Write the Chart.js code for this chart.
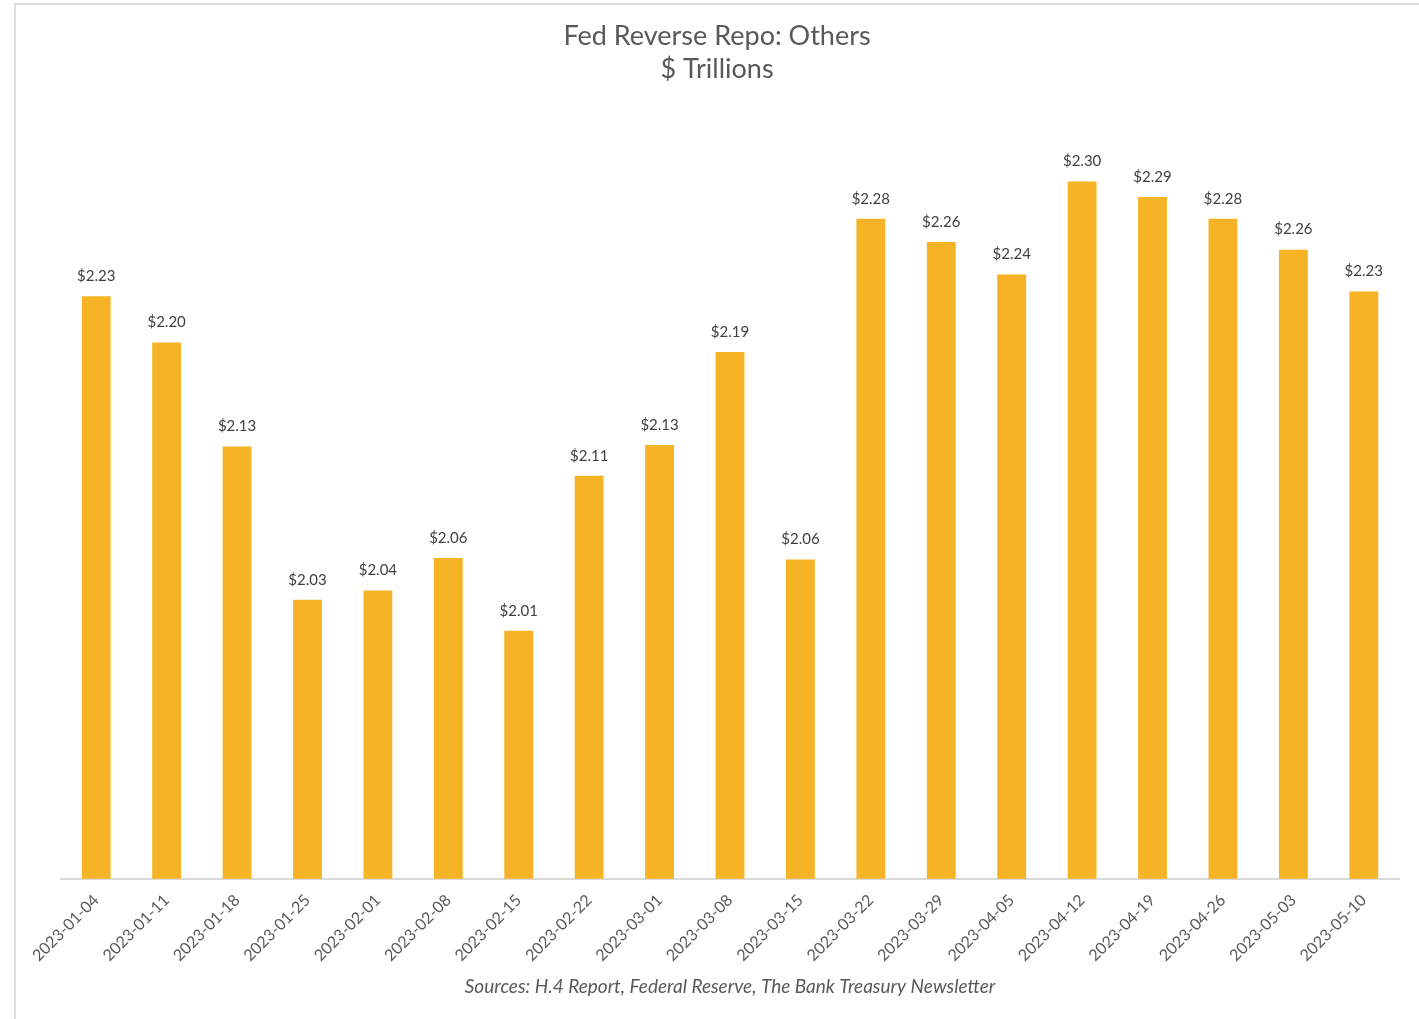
<!DOCTYPE html>
<html>
<head>
<meta charset="utf-8">
<script src="https://cdn.jsdelivr.net/npm/chart.js@4.4.0/dist/chart.umd.min.js"></script>
<style>
  html, body { margin: 0; padding: 0; background: #fff; }
  #wrap { position: relative; width: 1419px; height: 1019px; overflow: hidden; }
  #frame { position: absolute; left: 14px; top: 3px; right: -10px; bottom: -10px;
           border-left: 2px solid #dedede; border-top: 2px solid #dedede; }
  canvas { position: absolute; left: 0; top: 0; }
</style>
</head>
<body>
<div id="wrap">
  <div id="frame"></div>
  <canvas id="repoChart" width="1419" height="1019"></canvas>
</div>
<script>
// weekly dates (Wednesdays)
const weeks = [
  '2023-01-04', '2023-01-11', '2023-01-18', '2023-01-25', '2023-02-01',
  '2023-02-08', '2023-02-15', '2023-02-22', '2023-03-01', '2023-03-08',
  '2023-03-15', '2023-03-22', '2023-03-29', '2023-04-05', '2023-04-12',
  '2023-04-19', '2023-04-26', '2023-05-03', '2023-05-10'
];

// $ trillions
const othersRepo = [
  2.226, 2.196, 2.129, 2.030, 2.036,
  2.057, 2.010, 2.110, 2.130, 2.190,
  2.056, 2.276, 2.261, 2.240, 2.300,
  2.290, 2.276, 2.256, 2.229
];

const titleLines = ['Fed Reverse Repo: Others', '$ Trillions'];
const sourceNote = 'Sources: H.4 Report, Federal Reserve, The Bank Treasury Newsletter';

const FONT = 'Lato, "Open Sans", sans-serif';

// title is drawn by hand: it sits a bit left of the plot centre in the original
const titleBlock = {
    id: 'titleBlock',
    afterDraw(chart) {
        const ctx = chart.ctx;
        ctx.save();
        ctx.font = '27px ' + FONT;
        ctx.fillStyle = '#595959';
        ctx.textAlign = 'center';
        ctx.textBaseline = 'middle';
        ctx.fillText(titleLines[0], 717, 36);
        ctx.fillText(titleLines[1], 717, 69);
        ctx.restore();
    }
};

// writes "$x.xx" above each bar
const valueLabels = {
    id: 'valueLabels',
    afterDatasetsDraw(chart) {
        const ctx = chart.ctx;
        const meta = chart.getDatasetMeta(0);
        ctx.save();
        ctx.font = '15px ' + FONT;
        ctx.fillStyle = '#404040';
        ctx.textAlign = 'center';
        ctx.textBaseline = 'middle';
        meta.data.forEach((bar, i) => {
            ctx.fillText('$' + othersRepo[i].toFixed(2), bar.x, bar.y - 20);
        });
        ctx.restore();
    }
};

new Chart(document.getElementById('repoChart').getContext('2d'), {
    type: 'bar',
    data: {
        labels: weeks,
        datasets: [{
            data: othersRepo,
            backgroundColor: '#F6B326',
            borderWidth: 0,
            categoryPercentage: 1,
            barPercentage: 0.41
        }]
    },
    options: {
        responsive: false,
        animation: false,
        layout: { padding: { left: 61, right: 20, top: 104, bottom: 21 } },
        plugins: {
            legend: { display: false },
            tooltip: { enabled: false },
            title: { display: false },
            subtitle: {
                display: true,
                position: 'bottom',
                text: sourceNote,
                color: '#595959',
                font: { family: FONT, size: 19, style: 'italic', lineHeight: 1.2 },
                padding: { top: 6, bottom: 0 }
            }
        },
        scales: {
            x: {
                grid: { display: false },
                border: { display: true, color: '#d9d9d9', width: 2 },
                ticks: {
                    color: '#595959',
                    font: { family: FONT, size: 16 },
                    minRotation: 45,
                    maxRotation: 45,
                    autoSkip: false,
                    padding: 4
                }
            },
            y: {
                display: false,
                min: 1.85,
                max: 2.35
            }
        }
    },
    plugins: [valueLabels, titleBlock]
});
</script>
</body>
</html>
